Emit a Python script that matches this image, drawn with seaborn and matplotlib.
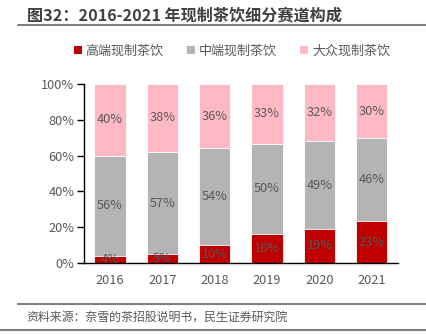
import matplotlib
matplotlib.use("Agg")
import matplotlib.pyplot as plt
from matplotlib.patches import Patch
from matplotlib.lines import Line2D
import seaborn as sns
import pandas as pd
import numpy as np

years = ["2016", "2017", "2018", "2019", "2020", "2021"]
high = [4, 5, 10, 16, 19, 23]
mid = [56, 57, 54, 50, 49, 46]
mass = [40, 38, 36, 33, 32, 30]
series_names = ["高端现制茶饮", "中端现制茶饮", "大众现制茶饮"]
colors = ["#C00000", "#B4B4B4", "#FFB9C5"]
yticks = [0, 20, 40, 60, 80, 100]

sns.set_theme(style="white")
plt.rcParams['font.family'] = ['Noto Sans CJK SC', 'DejaVu Sans']

fig = plt.figure(figsize=(4.26, 3.34), dpi=100)
ax = fig.add_axes([0.197, 0.2126, 0.737, 0.536])

h = np.array(high, float)
m = np.array(mid, float)
s = np.array(mass, float)
tot = h + m + s
hn, mn, sn = h / tot * 100, m / tot * 100, s / tot * 100

df = pd.DataFrame({"year": years, "top": hn + mn + sn, "mid": hn + mn, "low": hn})
for col, c in zip(["top", "mid", "low"], [colors[2], colors[1], colors[0]]):
    sns.barplot(data=df, x="year", y=col, color=c, width=0.6, ax=ax,
                edgecolor="white", linewidth=0.6, saturation=1)

txt_color = "#595959"
for i in range(len(years)):
    ax.text(i, hn[i] / 2, f"{high[i]}%", ha="center", va="center", fontsize=9.2, color=txt_color)
    ax.text(i, hn[i] + mn[i] / 2, f"{mid[i]}%", ha="center", va="center", fontsize=9.2, color=txt_color)
    ax.text(i, hn[i] + mn[i] + sn[i] / 2, f"{mass[i]}%", ha="center", va="center", fontsize=9.2, color=txt_color)

ax.set_ylim(0, 100)
ax.set_xlim(-0.5, len(years) - 0.5)
ax.set_yticks(yticks)
ax.set_yticklabels([f"{v}%" for v in yticks], fontsize=9.2, color=txt_color)
ax.set_xticks(range(len(years)))
ax.set_xticklabels(years, fontsize=9.2, color=txt_color)
ax.set_xticks(np.arange(-0.5, len(years), 1), minor=True)
ax.tick_params(axis="x", which="major", length=0, pad=8)
ax.tick_params(axis="x", which="minor", length=5, width=1, color="black", direction="out")
ax.tick_params(axis="y", which="major", length=5, width=1, color="black", direction="out", pad=2, left=True)
ax.set_xlabel("")
ax.set_ylabel("")
for sp in ["top", "right"]:
    ax.spines[sp].set_visible(False)
for sp in ["left", "bottom"]:
    ax.spines[sp].set_color("black")
    ax.spines[sp].set_linewidth(1)

handles = [Patch(facecolor=c, edgecolor="none") for c in colors]
fig.legend(handles, series_names, loc="center left", bbox_to_anchor=(0.146, 0.848),
           ncol=3, frameon=False, fontsize=9.4, handlelength=0.6, handleheight=0.6,
           handletextpad=0.3, columnspacing=1.8, labelcolor=txt_color)

fig.text(0.063, 0.953, "图32：2016-2021 年现制茶饮细分赛道构成", fontsize=11.6,
         fontweight="bold", color="#404040", va="center", ha="left")
fig.add_artist(Line2D([0.042, 1.0], [0.926, 0.926], color="#7F7F7F", linewidth=1.5,
                      transform=fig.transFigure))
fig.add_artist(Line2D([0.042, 1.0], [0.09, 0.09], color="#7F7F7F", linewidth=1.5,
                      transform=fig.transFigure))
fig.add_artist(Line2D([0.0, 1.0], [0.012, 0.012], color="#7F7F7F", linewidth=1.5,
                      transform=fig.transFigure))
fig.text(0.063, 0.052, "资料来源：奈雪的茶招股说明书，民生证券研究院", fontsize=8.6,
         color=txt_color, va="center", ha="left")

fig.savefig("out.png", dpi=100)
